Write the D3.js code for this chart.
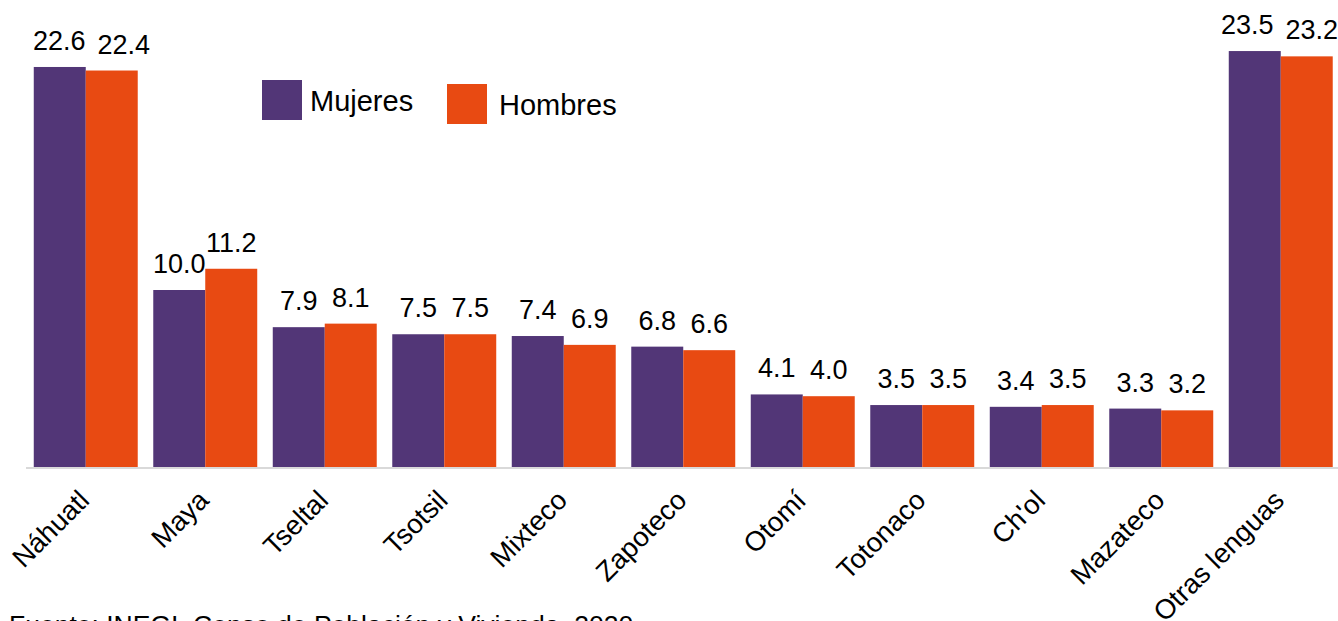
<!DOCTYPE html>
<html><head><meta charset="utf-8">
<script src="https://cdn.jsdelivr.net/npm/d3@7"></script>
<style>body{margin:0;background:#fff}svg{display:block}text{font-family:"Liberation Sans",Arial,sans-serif;fill:#000}</style>
</head><body>
<svg id="c" width="1338" height="621"></svg>
<script>
const categories = ["Náhuatl","Maya","Tseltal","Tsotsil","Mixteco","Zapoteco","Otomí","Totonaco","Ch'ol","Mazateco","Otras lenguas"];
const mujeres = [22.6,10.0,7.9,7.5,7.4,6.8,4.1,3.5,3.4,3.3,23.5];
const hombres = [22.4,11.2,8.1,7.5,6.9,6.6,4.0,3.5,3.5,3.2,23.2];
const seriesNames = ["Mujeres","Hombres"];
const colors = ["#523677","#E84A12"];
const source = "Fuente: INEGI. Censo de Población y Vivienda, 2020.";

const W = 1338;
const svg = d3.select("#c");
const baseY = 467;
const x = d3.scaleBand().domain(categories).range([26, 1340.5]).paddingInner(0.13).paddingOuter(0.065);
const xs = d3.scaleBand().domain(seriesNames).range([0, x.bandwidth()]);
const y = d3.scaleLinear().domain([0, 25]).range([baseY, baseY - 25*17.7]);

const data = categories.map((c,i)=>({cat:c, vals:[mujeres[i], hombres[i]]}));

svg.append("g").selectAll("g").data(data).join("g")
  .attr("transform", d=>`translate(${x(d.cat)},0)`)
  .selectAll("rect").data(d=>d.vals.map((v,j)=>({v,j}))).join("rect")
  .attr("x", d=>xs(seriesNames[d.j])).attr("width", xs.bandwidth())
  .attr("y", d=>y(d.v)).attr("height", d=>baseY - y(d.v))
  .attr("fill", d=>colors[d.j]);

// value labels with simple overlap avoidance
const fs = 27, gap = 12, minX = 33;
const lblG = svg.append("g");
data.forEach(d=>{
  const lab = d.vals.map((v,j)=>{
    const t = lblG.append("text").attr("text-anchor","middle").attr("font-size",fs)
      .attr("y", y(v) - 17).text(v.toFixed(1));
    const cx = x(d.cat) + xs(seriesNames[j]) + xs.bandwidth()/2;
    return {t, cx, y: y(v) - 17, w: t.node().getComputedTextLength()};
  });
  const [a,b] = lab;
  if (Math.abs(a.y - b.y) < fs*0.72) {
    const need = (a.w/2 + b.w/2 + gap) - (b.cx - a.cx);
    if (need > 0) {
      let sa = -need/2, sb = need/2;
      if (a.cx + sa - a.w/2 < minX) { sa = minX - (a.cx - a.w/2); sb = need + sa; }
      if (b.cx + sb + b.w/2 > W) { sb = W - (b.cx + b.w/2); sa = sb - need; }
      a.cx += sa; b.cx += sb;
    }
  }
  lab.forEach(l=>l.t.attr("x", l.cx));
});

svg.append("line").attr("x1",26).attr("x2",W).attr("y1",baseY+1).attr("y2",baseY+1)
  .attr("stroke","#d9d9d9").attr("stroke-width",2);

svg.selectAll("text.cat").data(categories).join("text").attr("class","cat")
  .attr("text-anchor","end").attr("font-size",27.5)
  .attr("transform", d=>`translate(${x(d)+x.bandwidth()/2+5},${baseY+35}) rotate(-45)`)
  .text(d=>d);

// legend
const leg = [{x:262,y:80,tx:310},{x:447,y:84,tx:499}];
seriesNames.forEach((s,i)=>{
  svg.append("rect").attr("x",leg[i].x).attr("y",leg[i].y).attr("width",40).attr("height",40).attr("fill",colors[i]);
  svg.append("text").attr("x",leg[i].tx).attr("y",leg[i].y+31).attr("font-size",29).text(s);
});

svg.append("text").attr("x",9).attr("y",634).attr("font-size",26.5).text(source);
</script>
</body></html>
